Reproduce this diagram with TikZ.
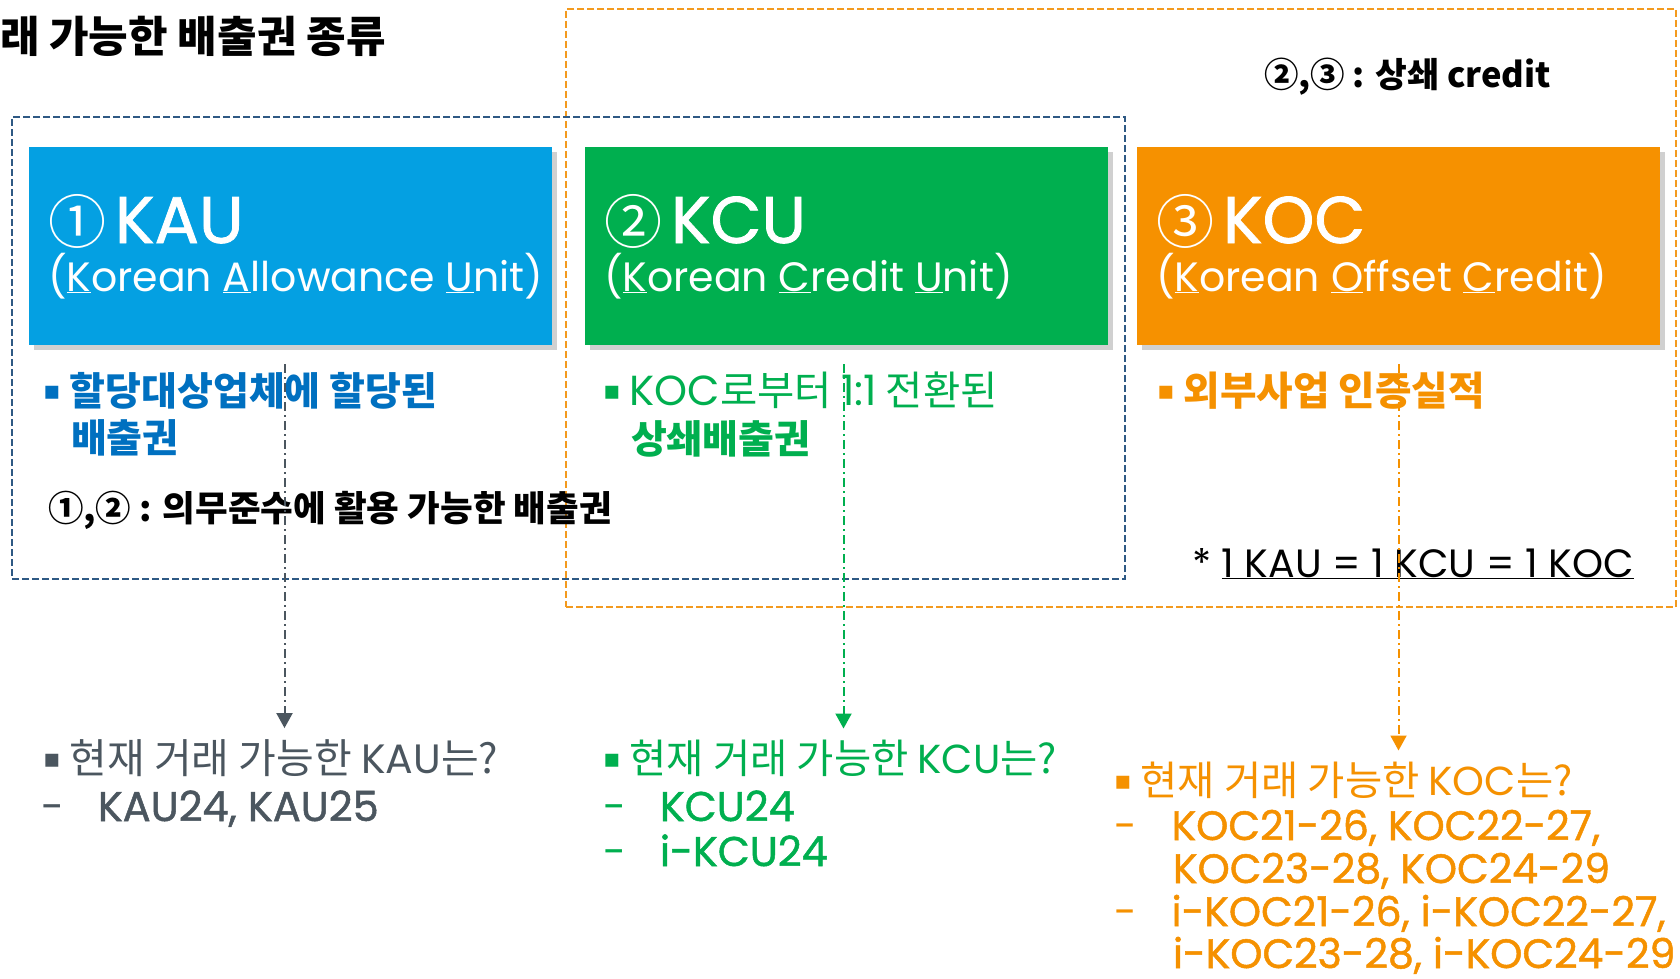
\documentclass[tikz,border=0pt]{standalone}
\usepackage{fontspec}
\setmainfont{Noto Sans CJK KR}
\newfontfamily\pop{Poppins}
\newfontfamily\popm{Poppins}[FakeBold=1.2]
\newfontfamily\dv{DejaVu Sans}
\usetikzlibrary{arrows.meta,shadows}
\definecolor{cblue}{HTML}{04A0E2}
\definecolor{cgreen}{HTML}{00AF4F}
\definecolor{corange}{HTML}{F69100}
\definecolor{tblue}{HTML}{0070C0}
\definecolor{tgreen}{HTML}{00AF4F}
\definecolor{torange}{HTML}{F59100}
\definecolor{tgray}{HTML}{4B565F}
\definecolor{navy}{HTML}{2E5984}
\definecolor{dorange}{HTML}{F39A1E}
\newcommand\FS[1]{\fontsize{#1}{#1}\selectfont}
\newcommand\bul{\raisebox{6pt}{\dv\FS{26}▪}}
\begin{document}
\begin{tikzpicture}[x=1pt,y=-1pt,
  every node/.style={inner sep=0pt, outer sep=0pt},
  txt/.style={anchor=base west},
  hbox/.style={anchor=north west, minimum width=523pt, minimum height=198pt,
    drop shadow={shadow xshift=5pt, shadow yshift=-5pt, opacity=0.3, fill=black!60}},
  flow/.style={line width=2pt, dash pattern=on 9pt off 4pt on 2pt off 4pt,
    -{Triangle[width=16pt,length=15pt]}, shorten <=19pt, shorten >=11pt},
  frame/.style={line width=2pt, dash pattern=on 7pt off 3pt, anchor=north west}]
\useasboundingbox (0,0) rectangle (1680,979);
\fill[white] (0,0) rectangle (1680,979);

% frames
\node[frame, draw=dorange, minimum width=1110pt, minimum height=598pt] (frO) at (566,9) {};
\node[frame, draw=navy, minimum width=1113pt, minimum height=462pt] (frN) at (12,117) {};

% title and notes
\node[txt] (title) at (0,53) {\bfseries\FS{43}래 가능한 배출권 종류};
\node[txt] (note23) at (1264,88) {\bfseries\FS{34.5}②,③ : 상쇄 credit};

% boxes
\node[hbox, fill=cblue] (kau) at (29,147) {};
\node[hbox, fill=cgreen] (kcu) at (585,147) {};
\node[hbox, fill=corange] (koc) at (1137,147) {};

\node[txt, text=white] (kauh) at (48,243) {{\FS{58}①}\hspace{9pt}{\popm\FS{66}KAU}};
\node[txt, text=white] (kaus) at (48,291) {\pop\FS{41}(\underline{K}orean \underline{A}llowance \underline{U}nit)};
\node[txt, text=white] (kcuh) at (604,243) {{\FS{58}②}\hspace{9pt}{\popm\FS{66}KCU}};
\node[txt, text=white] (kcus) at (604,291) {\pop\FS{41}(\underline{K}orean \underline{C}redit \underline{U}nit)};
\node[txt, text=white] (koch) at (1156,243) {{\FS{58}③}\hspace{9pt}{\popm\FS{66}KOC}};
\node[txt, text=white] (kocs) at (1156,291) {\pop\FS{41}(\underline{K}orean \underline{O}ffset \underline{C}redit)};

% descriptions
\node[txt, text=tblue] (kaud) at (43,405) {\bul\hspace{9pt}{\bfseries\FS{39}할당대상업체에 할당된}};
\node[txt, text=tblue] (kaud2) at (71,452) {\bfseries\FS{39}배출권};
\node[txt, text=tgreen] (kcud) at (603,405) {\bul\hspace{9pt}{\FS{40.5}{\pop\FS{42}KOC}로부터 {\pop\FS{42}1:1} 전환된}};
\node[txt, text=tgreen] (kcud2) at (631,453) {\bfseries\FS{39}상쇄배출권};
\node[txt, text=torange] (kocd) at (1157,405) {\bul\hspace{9pt}{\bfseries\FS{39.7}외부사업 인증실적}};

\node[txt] (note12) at (48,521) {\bfseries\FS{35.5}①,② : 의무준수에 활용 가능한 배출권};
\node[txt] (eq) at (1192,577) {\pop\FS{39.5}* \underline{1 KAU = 1 KCU = 1 KOC}};

% bottom lists
\node[txt, text=tgray] (kauq) at (43,773) {\bul\hspace{9pt}{\FS{41}현재 거래 가능한 {\pop KAU}는?}};
\node[txt, text=tgray] (kaul1) at (41,821) {\FS{41.5}\pop -\hspace{34pt}{\popm KAU24, KAU25}};

\node[txt, text=tgreen] (kcuq) at (603,773) {\bul\hspace{9pt}{\FS{40.5}현재 거래 가능한 {\pop KCU}는?}};
\node[txt, text=tgreen] (kcul1) at (603,821) {\FS{41.5}\pop -\hspace{34pt}{\popm KCU24}};
\node[txt, text=tgreen] (kcul2) at (603,866) {\FS{41.5}\pop -\hspace{34pt}{\popm i-KCU24}};

\node[txt, text=torange] (kocq) at (1114,795) {\bul\hspace{9pt}{\FS{40.5}현재 거래 가능한 {\pop KOC}는?}};
\node[txt, text=torange] (kocl1) at (1114,840) {\FS{41}\pop -\hspace{35pt}{\popm KOC21-26, KOC22-27,}};
\node[txt, text=torange] (kocl2) at (1173,883) {\FS{41}\popm KOC23-28, KOC24-29};
\node[txt, text=torange] (kocl3) at (1114,926) {\FS{41}\pop -\hspace{35pt}{\popm i-KOC21-26, i-KOC22-27,}};
\node[txt, text=torange] (kocl4) at (1173,968) {\FS{41}\popm i-KOC23-28, i-KOC24-29};

% connectors
\draw[flow, draw=tgray] ([xshift=-6pt]kau.south) -- ([xshift=-6pt]kau.south |- kauq.north);
\draw[flow, draw=tgreen] ([xshift=-3pt]kcu.south) -- ([xshift=-3pt]kcu.south |- kcuq.north);
\draw[flow, draw=torange] (koc.south) -- (koc.south |- kocq.north);
\end{tikzpicture}
\end{document}
